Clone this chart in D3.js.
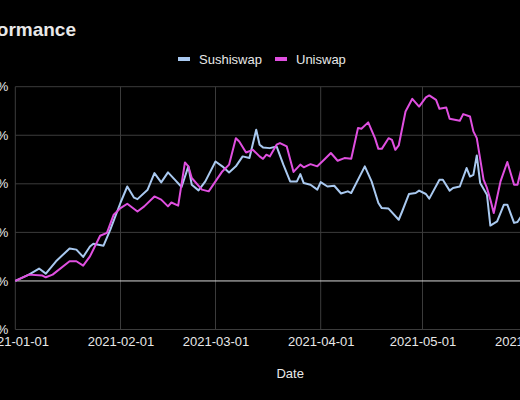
<!DOCTYPE html>
<html>
<head>
<meta charset="utf-8">
<script src="https://d3js.org/d3.v7.min.js"></script>
<style>
	html, body { margin: 0; padding: 0; background: #000; overflow: hidden; }
	text { font-family: "Liberation Sans", Arial, sans-serif; fill: #e8e8e8; }
</style>
</head>
<body>
<svg width="520" height="400"></svg>
<script>
var sushiDates = ["2021-01-01","2021-01-05","2021-01-08","2021-01-10","2021-01-13","2021-01-17","2021-01-19","2021-01-21","2021-01-23","2021-01-24",
	"2021-01-27","2021-01-29","2021-02-01","2021-02-03","2021-02-05","2021-02-06","2021-02-09","2021-02-11","2021-02-13","2021-02-15",
	"2021-02-17","2021-02-19","2021-02-21","2021-02-22","2021-02-24","2021-02-26","2021-03-01","2021-03-03","2021-03-05","2021-03-07",
	"2021-03-09","2021-03-11","2021-03-13","2021-03-14","2021-03-15","2021-03-17","2021-03-19","2021-03-21","2021-03-23","2021-03-25",
	"2021-03-26","2021-03-27","2021-03-29","2021-03-31","2021-04-01","2021-04-03","2021-04-05","2021-04-07","2021-04-09","2021-04-10",
	"2021-04-14","2021-04-16","2021-04-18","2021-04-19","2021-04-21","2021-04-24","2021-04-25","2021-04-27","2021-04-29","2021-04-30",
	"2021-05-02","2021-05-03","2021-05-06","2021-05-07","2021-05-09","2021-05-10","2021-05-12","2021-05-14","2021-05-15","2021-05-16",
	"2021-05-17","2021-05-18","2021-05-20","2021-05-21","2021-05-23","2021-05-25","2021-05-26","2021-05-28","2021-05-29","2021-05-31"]
var sushiValues = [0, 26, 51, 30, 81, 134, 129, 99, 142, 153,
	145, 211, 322, 389, 343, 337, 376, 444, 406, 447,
	417, 387, 472, 396, 373, 410, 492, 472, 447, 472,
	513, 506, 623, 561, 550, 547, 554, 479, 410, 410,
	440, 403, 396, 376, 407, 389, 392, 360, 369, 362,
	472, 410, 321, 300, 298, 252, 286, 358, 362, 372,
	358, 339, 417, 417, 372, 383, 389, 465, 430, 437,
	517, 403, 355, 228, 245, 314, 314, 239, 243, 285]

var uniDates = ["2021-01-01","2021-01-05","2021-01-09","2021-01-10","2021-01-12","2021-01-17","2021-01-19","2021-01-21","2021-01-23","2021-01-26",
	"2021-01-28","2021-01-30","2021-02-01","2021-02-03","2021-02-06","2021-02-08","2021-02-11","2021-02-13","2021-02-15","2021-02-16",
	"2021-02-18","2021-02-20","2021-02-21","2021-02-22","2021-02-25","2021-02-27","2021-03-01","2021-03-03","2021-03-05","2021-03-07",
	"2021-03-08","2021-03-10","2021-03-12","2021-03-14","2021-03-15","2021-03-16","2021-03-17","2021-03-19","2021-03-20","2021-03-22",
	"2021-03-24","2021-03-26","2021-03-27","2021-03-29","2021-03-31","2021-04-02","2021-04-04","2021-04-06","2021-04-08","2021-04-10",
	"2021-04-12","2021-04-13","2021-04-15","2021-04-17","2021-04-18","2021-04-19","2021-04-21","2021-04-22","2021-04-23","2021-04-24",
	"2021-04-26","2021-04-28","2021-04-30","2021-05-02","2021-05-03","2021-05-05","2021-05-06","2021-05-08","2021-05-09","2021-05-12",
	"2021-05-13","2021-05-15","2021-05-16","2021-05-17","2021-05-19","2021-05-20","2021-05-21","2021-05-22","2021-05-24","2021-05-26",
	"2021-05-28","2021-05-29","2021-05-30","2021-05-31"]
var uniValues = [0, 26, 22, 15, 26, 81, 81, 63, 101, 186,
	198, 273, 300, 318, 286, 307, 348, 335, 307, 323,
	310, 488, 472, 424, 376, 369, 410, 451, 479, 588,
	574, 529, 540, 513, 503, 520, 513, 561, 568, 554,
	449, 479, 468, 481, 472, 499, 527, 495, 506, 503,
	630, 627, 653, 588, 544, 544, 588, 581, 540, 558,
	698, 750, 718, 756, 764, 746, 709, 714, 668, 660,
	687, 677, 616, 588, 417, 383, 335, 280, 410, 490,
	396, 396, 454, 470]

var yTicks = [-200, 0, 200, 400, 600, 800]
var xRange = ["2021-01-01", "2021-06-12"]

var series = [
	{name: "Sushiswap", color: "#a9c9f0", dates: sushiDates, values: sushiValues},
	{name: "Uniswap",   color: "#e04fe0", dates: uniDates,   values: uniValues}
]

var parse = d3.timeParse("%Y-%m-%d")
var svg = d3.select("svg")

var plotLeft = 15.3, plotRight = 565, plotTop = 86.7, plotBottom = 329.5

var x = d3.scaleTime()
	.domain(xRange.map(parse))
	.range([plotLeft, plotRight])
var y = d3.scaleLinear()
	.domain([-200, 800])
	.range([plotBottom, plotTop])

var monthTicks = d3.timeMonth.range(parse("2021-01-01"), parse("2021-06-02"))

// grid
svg.append("g").selectAll("line")
		.data(monthTicks)
	.enter().append("line")
		.attr("x1", function(d){ return x(d) })
		.attr("x2", function(d){ return x(d) })
		.attr("y1", plotTop)
		.attr("y2", plotBottom)
		.attr("stroke", "#3c3c3c")
		.attr("stroke-width", 1)
svg.append("g").selectAll("line")
		.data(yTicks)
	.enter().append("line")
		.attr("x1", plotLeft)
		.attr("x2", plotRight)
		.attr("y1", function(d){ return y(d) })
		.attr("y2", function(d){ return y(d) })
		.attr("stroke", function(d){ return d === 0 ? "#d8d8d8" : "#3c3c3c" })
		.attr("stroke-width", 1)

// axes
var xAxis = d3.axisBottom(x)
	.tickValues(monthTicks)
	.tickFormat(d3.timeFormat("%Y-%m-%d"))
	.tickSize(0)
	.tickPadding(7)
var gx = svg.append("g")
	.attr("transform", "translate(0," + plotBottom + ")")
	.call(xAxis)
gx.select(".domain").remove()
gx.selectAll("text").style("font-size", "13px").attr("fill", "#e8e8e8")

var yAxis = d3.axisLeft(y)
	.tickValues(yTicks)
	.tickFormat(function(d){ return d + "%" })
	.tickSize(0)
	.tickPadding(7)
var gy = svg.append("g")
	.attr("transform", "translate(" + plotLeft + ",0)")
	.call(yAxis)
gy.select(".domain").remove()
gy.selectAll("text").style("font-size", "13px").attr("fill", "#e8e8e8")

// lines
var line = d3.line()
	.x(function(d){ return x(d.date) })
	.y(function(d){ return y(d.value) })

series.forEach(function(s){
	var pts = s.dates.map(function(d, i){ return {date: parse(d), value: s.values[i]} })
	svg.append("path")
		.datum(pts)
		.attr("fill", "none")
		.attr("stroke", s.color)
		.attr("stroke-width", 2)
		.attr("stroke-linejoin", "round")
		.attr("d", line)
})

// title, axis title
svg.append("text")
	.attr("x", 76)
	.attr("y", 36)
	.attr("text-anchor", "end")
	.style("font-size", "19px")
	.style("font-weight", "bold")
	.attr("fill", "#fff")
	.text("Performance")

svg.append("text")
	.attr("x", (plotLeft + plotRight) / 2)
	.attr("y", 378)
	.attr("text-anchor", "middle")
	.style("font-size", "13px")
	.text("Date")

// legend
var legendX = [178, 275]
var legend = svg.append("g").selectAll("g")
		.data(series)
	.enter().append("g")
		.attr("transform", function(d, i){ return "translate(" + legendX[i] + ",59)" })
legend.append("line")
	.attr("x1", 0)
	.attr("x2", 12)
	.attr("stroke", function(d){ return d.color })
	.attr("stroke-width", 4)
legend.append("text")
	.attr("x", 21)
	.attr("y", 5)
	.style("font-size", "13px")
	.text(function(d){ return d.name })
</script>
</body>
</html>
